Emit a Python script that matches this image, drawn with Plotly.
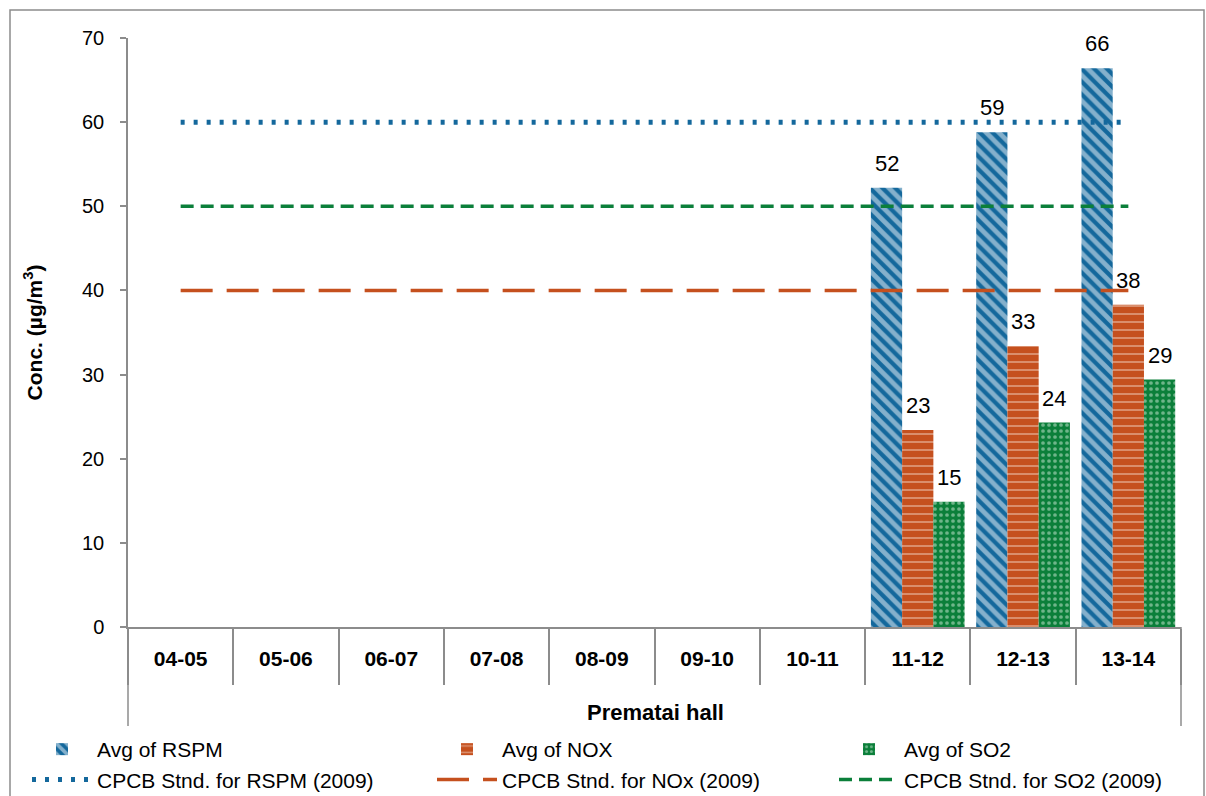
import plotly.graph_objects as go

categories = ["04-05", "05-06", "06-07", "07-08", "08-09", "09-10", "10-11", "11-12", "12-13", "13-14"]
rspm = [None, None, None, None, None, None, None, 52.2, 58.8, 66.4]
nox = [None, None, None, None, None, None, None, 23.4, 33.4, 38.3]
so2 = [None, None, None, None, None, None, None, 14.9, 24.3, 29.4]
std_rspm = [60] * 10
std_nox = [40] * 10
std_so2 = [50] * 10

BLUE = "#14689c"
ORANGE = "#c5501e"
GREEN = "#0b7f3a"
NARROW = "Liberation Sans Narrow, Arial Narrow, Liberation Sans, Arial"
W, H = 1206, 796
L, R, T, B = 128, 1181, 38, 627
BARGAP = 0.11


def px(x):
    return (x - L) / (R - L)


def py(y):
    return (B - y) / (B - T)


fig = go.Figure()
fig.add_trace(go.Bar(
    x=categories, y=rspm, name="Avg of RSPM", legend="legend",
    marker=dict(color=BLUE, line=dict(width=0),
                pattern=dict(shape="\\", fgcolor="#f4f8fb", bgcolor=BLUE, size=9, solidity=0.52)),
))
fig.add_trace(go.Bar(
    x=categories, y=nox, name="Avg of NOX", legend="legend2",
    marker=dict(color=ORANGE, line=dict(width=0),
                pattern=dict(shape="-", fgcolor="#f6ddd0", bgcolor=ORANGE, size=8, solidity=0.22)),
))
fig.add_trace(go.Bar(
    x=categories, y=so2, name="Avg of SO2", legend="legend3",
    marker=dict(color=GREEN, line=dict(width=0),
                pattern=dict(shape=".", fgcolor="#d3ebd9", bgcolor=GREEN, size=6, solidity=0.3)),
))

fig.add_trace(go.Scatter(x=categories, y=std_rspm, mode="lines", name="CPCB Stnd. for RSPM (2009)",
                         legend="legend", line=dict(color=BLUE, width=5, dash="4px,9px")))
fig.add_trace(go.Scatter(x=categories, y=std_nox, mode="lines", name="CPCB Stnd. for NOx (2009)",
                         legend="legend2", line=dict(color=ORANGE, width=3.5, dash="32px,14px")))
fig.add_trace(go.Scatter(x=categories, y=std_so2, mode="lines", name="CPCB Stnd. for SO2 (2009)",
                         legend="legend3", line=dict(color=GREEN, width=3.5, dash="13px,7px")))

# value labels above bars (offset within group = one bar width)
bar_px = (R - L) / len(categories) * (1 - BARGAP) / 3
annotations = []
for gi, series in enumerate([rspm, nox, so2]):
    for cat, v in zip(categories, series):
        if v is None:
            continue
        annotations.append(dict(x=cat, y=v, xref="x", yref="y", text=f"{v:.0f}",
                                showarrow=False, xanchor="center", yanchor="bottom",
                                xshift=(gi - 1) * bar_px, yshift=10,
                                font=dict(family=NARROW, size=22, color="black")))
annotations.append(dict(text="<b>Prematai hall</b>", xref="paper", yref="paper",
                        x=px(655), y=py(712), xanchor="center", yanchor="middle", showarrow=False,
                        font=dict(family=NARROW, size=22, color="black")))

shapes = []
GRAY = "#8c8c8c"
# outer chart border
shapes.append(dict(type="rect", xref="paper", yref="paper",
                   x0=px(10), x1=px(1204), y0=py(800), y1=py(10),
                   line=dict(color=GRAY, width=1.5), layer="below"))
# outer category box edges
for xe in (L, R):
    shapes.append(dict(type="line", xref="paper", yref="paper",
                       x0=px(xe), x1=px(xe), y0=py(B), y1=py(726),
                       line=dict(color=GRAY, width=1.5)))


def leg(xpx):
    return dict(orientation="v", x=px(xpx), y=py(729), xanchor="left", yanchor="top",
                traceorder="normal", font=dict(family=NARROW, size=21, color="black"),
                itemwidth=60, tracegroupgap=0, bgcolor="rgba(0,0,0,0)")


fig.update_layout(
    width=W, height=H,
    margin=dict(l=L, r=W - R, t=T, b=H - B, autoexpand=False),
    paper_bgcolor="white", plot_bgcolor="white",
    barmode="group", bargap=BARGAP, bargroupgap=0,
    font=dict(family="Liberation Sans, Arial", color="black"),
    showlegend=True,
    legend=leg(27), legend2=leg(432), legend3=leg(834),
    shapes=shapes,
    annotations=annotations,
    xaxis=dict(type="category", showline=True, linecolor=GRAY, linewidth=1.5, automargin=False,
               ticks="outside", tickson="boundaries", ticklen=56, tickcolor=GRAY, tickwidth=1.5,
               ticklabelstandoff=12,
               showgrid=False, tickfont=dict(family=NARROW, size=21, color="black"),
               tickprefix="<b>", ticksuffix="</b>", range=[-0.5, 9.5]),
    yaxis=dict(range=[0, 70], dtick=10, showline=True, linecolor=GRAY, linewidth=1.5,
               automargin=False,
               ticks="outside", ticklen=6, tickcolor=GRAY, tickwidth=1.5, ticklabelstandoff=12,
               showgrid=False, zeroline=False,
               tickfont=dict(family="Liberation Sans, Arial", size=20, color="black"),
               title=dict(text="<b>Conc. (µg/m<sup>3</sup>)</b>", standoff=34,
                          font=dict(family=NARROW, size=21, color="black"))),
)

fig.write_html("out.html", config={"displayModeBar": False},
               post_script="document.body.style.margin='0';")
